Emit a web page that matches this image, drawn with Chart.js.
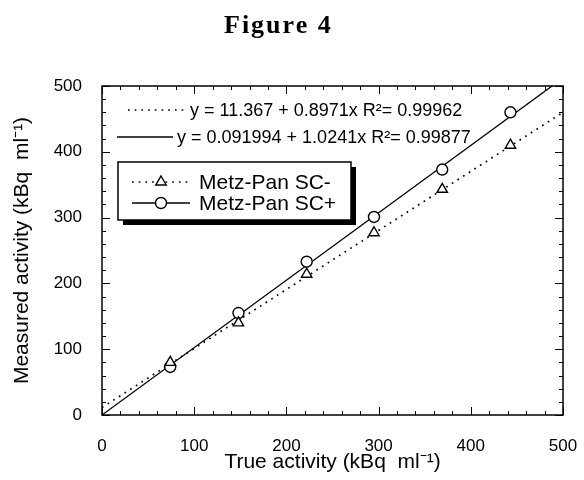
<!DOCTYPE html>
<html><head><meta charset="utf-8">
<script src="https://cdn.jsdelivr.net/npm/chart.js@4"></script>
<style>html,body{margin:0;padding:0;background:#fff}</style>
</head><body>
<canvas id="c" width="584" height="480"></canvas>
<script>
// ---- data ----
const trueActivity = [74, 148, 222, 295, 369, 443];
const scMinus = [80, 140, 214, 277, 343, 410];
const scPlus = [73, 155, 233, 301, 373, 460];
const seriesLabels = ['Metz-Pan SC-', 'Metz-Pan SC+'];
const fitIntercepts = ['11.367', '0.091994'];
const fitSlopes = ['0.8971', '1.0241'];
const fitR2 = ['0.99962', '0.99877'];
const axisTicks = [0, 100, 200, 300, 400, 500];
const fitRange = [0, 500];
const figureTitle = 'Figure 4';
const xTitle = 'True activity (kBq  ml\u207B\u00B9)';
const yTitle = 'Measured activity (kBq  ml\u207B\u00B9)';

const SANS = "'Liberation Sans', Arial, sans-serif";
const pts = (ys) => trueActivity.map((x, i) => ({x, y: ys[i]}));
const fitPts = (k) => fitRange.map(x => ({x, y: parseFloat(fitIntercepts[k]) + parseFloat(fitSlopes[k]) * x}));

const dotted = [1.7, 5];

const overlay = {
  id: 'overlay',
  afterDraw(chart) {
    const ctx = chart.ctx, ca = chart.chartArea;
    const xs = chart.scales.x, ys = chart.scales.y;
    ctx.save();
    ctx.strokeStyle = '#000';
    // frame
    ctx.lineWidth = 1.5;
    ctx.strokeRect(ca.left, ca.top, ca.right - ca.left, ca.bottom - ca.top);
    // inward ticks (major every 100, minor every 20)
    ctx.lineWidth = 1;
    ctx.beginPath();
    for (let v = 0; v <= 500; v += 20) {
      const major = v % 100 === 0;
      const L = major ? 8 : 4;
      const px = Math.round(xs.getPixelForValue(v)) + 0.5;
      ctx.moveTo(px, ca.bottom); ctx.lineTo(px, ca.bottom - L);
      ctx.moveTo(px, ca.top); ctx.lineTo(px, ca.top + L);
      const py = Math.round(ys.getPixelForValue(v)) + 0.5;
      ctx.moveTo(ca.left, py); ctx.lineTo(ca.left + L, py);
      ctx.moveTo(ca.right, py); ctx.lineTo(ca.right - L, py);
    }
    ctx.stroke();

    // figure title
    ctx.fillStyle = '#000';
    ctx.font = "bold 26px 'Liberation Serif', 'Times New Roman', serif";
    ctx.textBaseline = 'middle';
    ctx.textAlign = 'left';
    try { ctx.letterSpacing = '2px'; } catch (e) {}
    ctx.fillText(figureTitle, 224, 26);
    try { ctx.letterSpacing = '0px'; } catch (e) {}

    // fit equations
    ctx.font = '18px ' + SANS;
    const eq = [
      {x0: 128, x1: 187, y: 110, tx: 190, dash: dotted},
      {x0: 117, x1: 173, y: 137, tx: 177, dash: []}
    ];
    eq.forEach((e, k) => {
      ctx.beginPath();
      ctx.setLineDash(e.dash);
      ctx.lineWidth = e.dash.length ? 1.7 : 1.3;
      ctx.moveTo(e.x0, e.y); ctx.lineTo(e.x1, e.y);
      ctx.stroke();
      ctx.setLineDash([]);
      ctx.fillText('y = ' + fitIntercepts[k] + ' + ' + fitSlopes[k] + 'x R\u00B2= ' + fitR2[k], e.tx, e.y + 1);
    });

    // legend box with drop shadow
    const bx = 118, by = 162, bw = 233, bh = 58;
    ctx.fillStyle = '#000';
    ctx.fillRect(bx + 5, by + 5, bw, bh);
    ctx.fillStyle = '#fff';
    ctx.fillRect(bx, by, bw, bh);
    ctx.lineWidth = 1.5;
    ctx.strokeRect(bx, by, bw, bh);
    const rows = [
      {y: 182, dash: dotted, style: 'triangle'},
      {y: 203, dash: [], style: 'circle'}
    ];
    ctx.font = '21px ' + SANS;
    rows.forEach((r, k) => {
      ctx.beginPath();
      ctx.setLineDash(r.dash);
      ctx.lineWidth = r.dash.length ? 1.7 : 1.3;
      ctx.moveTo(132, r.y); ctx.lineTo(190, r.y);
      ctx.stroke();
      ctx.setLineDash([]);
      const ds = chart.data.datasets[k];
      ctx.fillStyle = '#fff';
      ctx.lineWidth = ds.borderWidth;
      ctx.beginPath();
      const cx = 161, cy = r.y, rad = ds.pointRadius;
      if (r.style === 'circle') {
        ctx.arc(cx, cy, rad, 0, Math.PI * 2);
      } else {
        ctx.moveTo(cx, cy - rad);
        ctx.lineTo(cx + rad * Math.sin(Math.PI * 2 / 3), cy - rad * Math.cos(Math.PI * 2 / 3));
        ctx.lineTo(cx + rad * Math.sin(Math.PI * 4 / 3), cy - rad * Math.cos(Math.PI * 4 / 3));
        ctx.closePath();
      }
      ctx.fill(); ctx.stroke();
      ctx.fillStyle = '#000';
      ctx.fillText(ds.label, 199, r.y + 1);
    });
    ctx.restore();
  }
};

new Chart(document.getElementById('c'), {
  type: 'scatter',
  data: {
    datasets: [
      {label: seriesLabels[0], data: pts(scMinus), pointStyle: 'triangle', pointRadius: 6,
       borderColor: '#000', backgroundColor: '#fff', borderWidth: 1.4, showLine: false, order: 0},
      {label: seriesLabels[1], data: pts(scPlus), pointStyle: 'circle', pointRadius: 5.5,
       borderColor: '#000', backgroundColor: '#fff', borderWidth: 1.4, showLine: false, order: 0},
      {label: 'fit SC-', data: fitPts(0), showLine: true, pointRadius: 0, borderColor: '#000',
       borderWidth: 1.7, borderDash: dotted, order: 2},
      {label: 'fit SC+', data: fitPts(1), showLine: true, pointRadius: 0, borderColor: '#000',
       borderWidth: 1.3, order: 1}
    ]
  },
  options: {
    responsive: false,
    animation: false,
    events: [],
    layout: {padding: {top: 86, right: 21, bottom: 0, left: 0}},
    plugins: {legend: {display: false}, tooltip: {enabled: false}, title: {display: false}},
    scales: {
      x: {
        type: 'linear', min: 0, max: 500,
        afterBuildTicks: s => { s.ticks = axisTicks.map(v => ({value: v})); },
        afterFit: s => { s.height = 65; s.paddingLeft = 0; s.paddingRight = 0; },
        grid: {display: false, drawTicks: false},
        border: {display: false},
        ticks: {color: '#000', font: {family: SANS, size: 17}, padding: 21, maxRotation: 0, autoSkip: false},
        title: {display: true, text: xTitle, color: '#000', font: {family: SANS, size: 21}, padding: {top: 0, bottom: 5}}
      },
      y: {
        type: 'linear', min: 0, max: 500,
        afterBuildTicks: s => { s.ticks = axisTicks.map(v => ({value: v})); },
        afterFit: s => { s.width = 102; s.paddingTop = 0; s.paddingBottom = 0; },
        grid: {display: false, drawTicks: false},
        border: {display: false},
        ticks: {color: '#000', font: {family: SANS, size: 17}, padding: 20, autoSkip: false},
        title: {display: true, text: yTitle, color: '#000', font: {family: SANS, size: 21}, padding: {top: 10, bottom: 0}}
      }
    }
  },
  plugins: [overlay]
});
</script>
</body></html>
